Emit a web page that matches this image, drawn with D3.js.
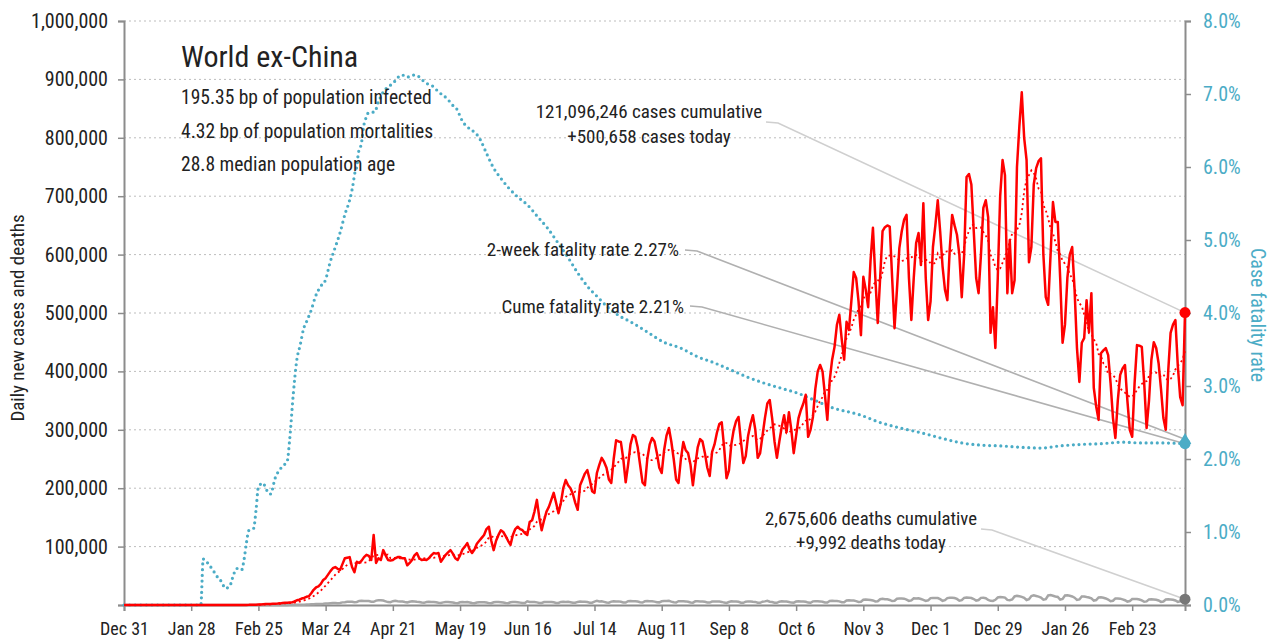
<!DOCTYPE html>
<html><head><meta charset="utf-8">
<script src="https://cdn.jsdelivr.net/npm/d3@7"></script>
<style>
body{margin:0;background:#fff;}
svg text{font-family:"Liberation Sans Narrow","Roboto Condensed","DejaVu Sans Condensed","Arial Narrow",sans-serif;fill:#222;}
</style></head><body><svg id="c" width="1273" height="643"></svg>
<script>
// ---------------- DATA ----------------
const startDate = "2019-12-31";
// daily new cases (thousands), Dec 31 2019 .. Mar 17 2021, one row per week (Tue..Mon)
const casesK = [
0,0,0,0,0,0,0,
0,0,0,0,0,0,0,
0,0,0,0,0,0,0,
0,0,0,0,0.01,0.01,0.01,
0.02,0.02,0.02,0.03,0.02,0.03,0.02,
0.03,0.02,0.02,0.03,0.03,0.02,0.04,
0.05,0.06,0.04,0.03,0.08,0.09,0.1,
0.12,0.1,0.2,0.3,0.5,0.6,0.5,
0.8,1.0,1.3,1.6,1.8,1.9,2.2,
2.3,2.5,2.8,3.5,3.8,3.9,4.2,
4.5,6.0,8.0,9.0,11,12,14,
15,20,26,30,32,36,43,
46,52,58,63,65,62,60,
70,80,81,82,65,56,74,
72,76,82,86,84,77,120,
72,80,77,94,85,77,76,
77,80,82,82,80,80,68,
72,77,85,89,80,77,78,
77,80,85,89,88,89,74,
80,86,90,94,88,80,77,
85,95,100,106,95,89,95,
105,110,115,120,130,134,110,
94,110,120,128,125,118,110,
103,120,130,134,130,128,123,
120,142,145,160,180,150,128,
145,160,168,180,192,175,157,
175,200,214,205,200,190,175,
163,205,215,225,231,215,195,
192,226,240,252,245,235,215,
209,250,282,280,279,250,210,
240,275,291,288,270,240,210,
205,250,275,286,280,260,235,
226,265,290,303,280,250,215,
209,250,279,265,260,240,205,
240,270,284,280,260,235,221,
262,275,295,310,313,270,217,
230,275,300,315,322,280,243,
255,290,310,325,300,252,260,
290,320,345,351,320,280,252,
280,305,325,296,330,300,260,
290,320,334,345,360,288,300,
322,370,400,411,400,360,317,
385,420,442,480,497,455,420,
485,471,520,570,560,520,462,
562,540,510,590,646,560,483,
560,640,647,650,648,560,474,
540,611,640,660,668,560,488,
560,620,637,582,688,560,488,
520,613,650,693,640,580,540,
522,610,668,650,634,600,527,
600,733,738,720,640,560,534,
600,680,693,664,466,510,440,
560,700,762,736,534,625,534,
556,750,820,878,800,762,587,
613,720,748,760,765,600,527,
514,600,690,656,656,560,449,
480,560,600,613,540,440,382,
449,457,522,467,534,372,340,
317,431,436,440,428,380,320,
286,350,394,405,411,350,300,
288,380,445,444,442,380,303,
350,420,450,440,414,370,320,
300,400,466,480,488,410,356,
342,500.658
];
// daily new deaths (thousands), same days
const deathsK = [
0,0,0,0,0,0,0, 0,0,0,0,0,0,0, 0,0,0,0,0,0,0, 0,0,0,0,0,0,0,
0,0,0,0,0,0,0, 0,0,0,0,0,0,0, 0,0,0,0,0,0,0, 0,0,0,0,0,0,0,
0.01,0.02,0.02,0.03,0.04,0.05,0.06,
0.07,0.08,0.1,0.12,0.15,0.2,0.25,
0.3,0.35,0.4,0.45,0.5,0.6,0.75,
0.9,1.1,1.3,1.6,1.8,1.8,2.0,
2.4,2.6,3.0,3.3,3.4,3.2,3.5,
4.5,4.9,5.4,5.7,5.5,4.8,5.2,
7.0,7.4,7.0,6.9,6.8,5.6,5.5,
7.5,8.0,8.3,7.6,6.3,5.0,4.9,
6.5,7.2,6.5,6.2,5.8,5.0,4.3,
5.6,6.2,5.9,5.4,5.1,4.2,3.7,
5.0,5.4,5.2,5.0,4.6,3.8,3.4,
4.5,5.0,5.0,4.8,4.4,3.6,3.2,
4.6,5.0,4.8,5.0,4.2,3.3,3.0,
4.3,4.8,4.9,4.7,4.2,3.2,3.0,
4.7,5.2,5.0,4.8,4.2,3.3,3.2,
4.7,5.0,5.3,4.8,4.1,3.3,3.3,
6.3,5.2,5.0,5.2,4.5,3.5,3.5,
5.0,5.3,5.2,5.2,4.8,3.6,3.5,
5.3,5.4,5.3,5.5,4.8,3.9,3.8,
5.3,5.8,5.6,5.5,5.0,4.0,3.9,
5.9,7.0,5.9,6.2,5.4,4.2,4.0,
5.8,6.3,6.1,6.2,5.6,4.4,4.3,
6.5,6.9,6.6,6.5,5.9,4.6,4.3,
6.4,6.8,6.6,6.5,5.8,4.7,4.5,
6.3,6.7,6.7,7.3,5.8,4.6,4.3,
6.5,6.4,6.5,6.2,5.6,4.4,4.0,
6.3,6.4,6.2,6.0,5.4,4.3,4.1,
6.0,6.1,6.0,5.8,5.3,4.1,3.6,
5.2,6.2,6.0,5.8,5.4,4.0,3.8,
5.7,6.2,6.0,5.6,5.3,4.0,3.7,
5.6,6.2,7.3,5.7,5.2,4.0,3.8,
5.7,6.3,6.0,5.8,5.2,4.1,3.9,
5.9,6.4,6.0,6.0,5.4,4.1,3.9,
6.2,6.6,6.4,6.2,5.6,4.3,4.3,
6.8,7.2,6.9,6.8,6.2,4.7,4.7,
7.6,8.0,7.8,7.6,6.7,5.2,5.5,
8.9,9.2,9.0,8.5,7.8,6.0,6.4,
9.8,10.5,9.7,9.7,8.7,6.8,7.3,
10.7,11.1,11.0,10.8,9.3,7.0,7.8,
11.5,11.3,11.6,10.2,8.9,7.1,8.0,
11.8,12.2,12.2,11.9,10.0,7.2,8.2,
11.8,12.5,12.4,12.0,10.4,7.3,8.3,
12.3,12.9,12.6,11.9,10.2,7.6,8.5,
12.2,12.4,11.6,8.6,7.1,7.0,8.9,
12.8,13.6,13.3,12.7,8.8,8.1,9.4,
14.6,15.6,15.0,13.9,12.2,8.6,9.9,
15.4,16.5,15.4,14.3,12.8,9.0,10.0,
16.3,16.9,15.9,14.6,13.8,9.4,10.5,
16.4,16.5,15.7,14.6,12.5,8.7,9.5,
14.7,14.5,13.6,12.9,11.3,7.6,8.4,
13.0,13.2,12.5,11.2,9.3,6.4,7.3,
11.3,11.3,10.9,9.6,8.2,5.7,6.7,
10.2,10.4,10.2,9.5,8.0,5.5,6.2,
9.6,9.8,9.6,9.0,7.8,5.3,6.0,
9.4,9.8,9.5,8.9,7.7,5.3,6.4,
9.6,9.992
];
// case fatality rate (%) read at these day offsets from startDate
const cfrDays = [0,32,33,35,37,39,41,42,44,45,47,49,50,51,52,54,55,56,58,59,61,63,66,68,69,70.5,72,73.4,74.7,76.3,78,79.7,81.8,83.9,85.9,88,90.1,92.2,93.4,94.7,95.5,96,97.2,97.6,98.5,99.3,99.7,100.5,101.8,103.5,104.7,105.5,106.8,108,110.1,112.2,113.9,115.9,118,120.2,122.2,124.3,126.4,128.5,131,134.8,136.8,138.9,140.2,148.5,151.4,153.9,156.9,159.8,164,168.1,172.3,176.5,180.6,184.8,189,193.2,197.3,201.5,206.9,211,218,224.9,231.9,239,245.7,252.8,259.9,266.6,273.7,280.8,287.4,294.5,307,315,324,332,340,349,357,365,374,382,390,399,407,416,424,432,442];
const cfrPct  = [0,0,0.63,0.57,0.48,0.38,0.3,0.23,0.25,0.35,0.5,0.48,0.62,0.85,1.02,1.05,1.3,1.62,1.67,1.6,1.52,1.74,1.9,1.97,2.26,2.88,3.36,3.56,3.77,3.9,4.04,4.22,4.36,4.45,4.7,4.9,5.11,5.37,5.48,5.64,5.78,5.89,6.05,6.19,6.27,6.41,6.53,6.64,6.74,6.75,6.76,6.85,6.95,7.03,7.1,7.15,7.22,7.26,7.23,7.26,7.25,7.19,7.14,7.11,7.03,6.93,6.85,6.78,6.68,6.37,6.16,5.99,5.85,5.73,5.59,5.48,5.32,5.16,4.97,4.77,4.55,4.36,4.22,4.08,3.95,3.88,3.74,3.6,3.52,3.4,3.32,3.22,3.12,3.04,2.97,2.9,2.81,2.71,2.6,2.5,2.42,2.36,2.29,2.22,2.19,2.18,2.16,2.15,2.18,2.2,2.21,2.23,2.22,2.22,2.21];
const twoWeekRate = 2.27, cumeRate = 2.21;
const xTickDates = ["2019-12-31","2020-01-28","2020-02-25","2020-03-24","2020-04-21","2020-05-19","2020-06-16","2020-07-14","2020-08-11","2020-09-08","2020-10-06","2020-11-03","2020-12-01","2020-12-29","2021-01-26","2021-02-23"];
const leftTicks = [0,100000,200000,300000,400000,500000,600000,700000,800000,900000,1000000];
const rightTicks = [0,1,2,3,4,5,6,7,8];
const titleText = "World ex-China";
const statLines = ["195.35 bp of population infected","4.32 bp of population mortalities","28.8 median population age"];
const casesNote = ["121,096,246 cases cumulative","+500,658 cases today"];
const deathsNote = ["2,675,606 deaths cumulative","+9,992 deaths today"];
const twoWeekNote = "2-week fatality rate 2.27%";
const cumeNote = "Cume fatality rate 2.21%";

// ---------------- CHART ----------------
const BLUE = "#4bacc6", RED = "#ff0000";
const svg = d3.select("#c");
const L = 124, R = 1185, T = 21, B = 605;
const t0 = d3.utcParse("%Y-%m-%d")(startDate);
const dayDate = i => d3.utcDay.offset(t0, i);
const n = casesK.length;
const x = d3.scaleUtc().domain([t0, dayDate(n - 1)]).range([L, R]);
const xd = d => x(new Date(t0.getTime() + d * 86400000));
const yL = d3.scaleLinear().domain([0, 1000000]).range([B, T]);
const yR = d3.scaleLinear().domain([0, 8]).range([B, T]);

const cases = casesK.map((v, i) => ({d: dayDate(i), v: v * 1000}));
const deaths = deathsK.map((v, i) => ({d: dayDate(i), v: v * 1000}));
const ma = cases.map((p, i) => {
  const s = cases.slice(Math.max(0, i - 6), i + 1);
  return {d: p.d, v: d3.mean(s, q => q.v)};
});

// gridlines
svg.append("g").selectAll("line").data(leftTicks.filter(t => t > 0)).join("line")
  .attr("x1", L).attr("x2", R).attr("y1", d => yL(d)).attr("y2", d => yL(d))
  .attr("stroke", "#bdbdbd").attr("stroke-width", 1).attr("stroke-dasharray", "2,3");

// axes
const axStyle = (g, fs) => {
  g.select(".domain").attr("stroke", "#8c8c8c").attr("stroke-width", 2);
  g.selectAll(".tick line").attr("stroke", "#8c8c8c").attr("stroke-width", 1.5);
  g.selectAll("text").style("font-size", fs);
};
svg.append("g").attr("transform", `translate(${L},0)`)
  .call(d3.axisLeft(yL).tickValues(leftTicks).tickSize(6).tickPadding(10)
    .tickFormat(d => d === 0 ? "" : d3.format(",")(d)))
  .call(axStyle, "20px").call(g => g.selectAll("text").attr("fill", "#222"));
svg.append("g").attr("transform", `translate(${R},0)`)
  .call(d3.axisRight(yR).tickValues(rightTicks).tickSize(6).tickPadding(12)
    .tickFormat(d => d3.format(".1f")(d) + "%"))
  .call(axStyle, "20px").call(g => g.selectAll("text").attr("fill", BLUE).style("fill", BLUE));
svg.append("g").attr("transform", `translate(0,${B})`)
  .call(d3.axisBottom(x).tickValues(xTickDates.map(s => d3.utcParse("%Y-%m-%d")(s)))
    .tickSize(6).tickPadding(11).tickFormat(d3.utcFormat("%b %-d")))
  .call(axStyle, "18px").call(g => g.selectAll("text").attr("fill", "#222"));

// axis titles
svg.append("text").attr("transform", `translate(24,${(T + B) / 2 + 5}) rotate(-90)`)
  .attr("text-anchor", "middle").style("font-size", "19px").text("Daily new cases and deaths");
svg.append("text").attr("transform", `translate(1251,${(T + B) / 2 + 2}) rotate(90)`)
  .attr("text-anchor", "middle").style("font-size", "20px").style("fill", BLUE).text("Case fatality rate");

// leader lines
const leaders = [
  {pts: [[766, 122], [778, 123], [R, yL(500658)]], c: "#cfcfcf"},
  {pts: [[685, 250], [697, 251], [R, yR(twoWeekRate)]], c: "#b0b0b0"},
  {pts: [[690, 306], [702, 307], [R, yR(cumeRate)]], c: "#b0b0b0"},
  {pts: [[981, 529], [992, 530], [R, yL(9992)]], c: "#d0d0d0"}
];
svg.append("g").selectAll("path").data(leaders).join("path")
  .attr("d", d => d3.line()(d.pts)).attr("fill", "none")
  .attr("stroke", d => d.c).attr("stroke-width", 1.6);

// data lines
svg.append("path").datum(deaths).attr("fill", "none").attr("stroke", "#a6a6a6").attr("stroke-width", 2.5)
  .attr("d", d3.line().x(p => x(p.d)).y(p => yL(p.v)));
const cfr = cfrDays.map((d, i) => ({d, v: cfrPct[i]}));
svg.append("path").datum(cfr).attr("fill", "none").attr("stroke", BLUE).attr("stroke-width", 3.2)
  .attr("stroke-linecap", "round").attr("stroke-dasharray", "0,5.6")
  .attr("d", d3.line().curve(d3.curveMonotoneX).x(p => xd(p.d)).y(p => yR(p.v)));
svg.append("path").datum(ma).attr("fill", "none").attr("stroke", RED).attr("stroke-width", 1.8)
  .attr("stroke-dasharray", "2,3")
  .attr("d", d3.line().x(p => x(p.d)).y(p => yL(p.v)));
svg.append("path").datum(cases).attr("fill", "none").attr("stroke", RED).attr("stroke-width", 2.5)
  .attr("stroke-linejoin", "round")
  .attr("d", d3.line().x(p => x(p.d)).y(p => yL(p.v)));

// end markers
svg.append("circle").attr("cx", R).attr("cy", yL(casesK[n - 1] * 1000)).attr("r", 5.5).attr("fill", RED);
svg.append("circle").attr("cx", R).attr("cy", yL(deathsK[n - 1] * 1000)).attr("r", 5.5).attr("fill", "#777");
svg.append("path").attr("transform", `translate(${R},${yR(twoWeekRate) + 1})`)
  .attr("d", d3.symbol(d3.symbolTriangle, 70)()).attr("fill", BLUE);
svg.append("circle").attr("cx", R).attr("cy", yR(cumeRate)).attr("r", 5.5).attr("fill", BLUE);

// title & stats
svg.append("text").attr("x", 181).attr("y", 67).style("font-size", "30px").text(titleText);
svg.selectAll(".stat").data(statLines).join("text").attr("class", "stat")
  .attr("x", 181).attr("y", (d, i) => 104 + i * 33.5).style("font-size", "19.5px").text(d => d);

// annotations
svg.selectAll(".cn").data(casesNote).join("text").attr("class", "cn")
  .attr("x", 649).attr("y", (d, i) => 118 + i * 25).attr("text-anchor", "middle")
  .style("font-size", "19px").text(d => d);
svg.selectAll(".dn").data(deathsNote).join("text").attr("class", "dn")
  .attr("x", 871).attr("y", (d, i) => 525 + i * 24).attr("text-anchor", "middle")
  .style("font-size", "18.8px").text(d => d);
svg.append("text").attr("x", 679).attr("y", 256).attr("text-anchor", "end").style("font-size", "19px").text(twoWeekNote);
svg.append("text").attr("x", 684).attr("y", 313).attr("text-anchor", "end").style("font-size", "19px").text(cumeNote);
</script></body></html>
